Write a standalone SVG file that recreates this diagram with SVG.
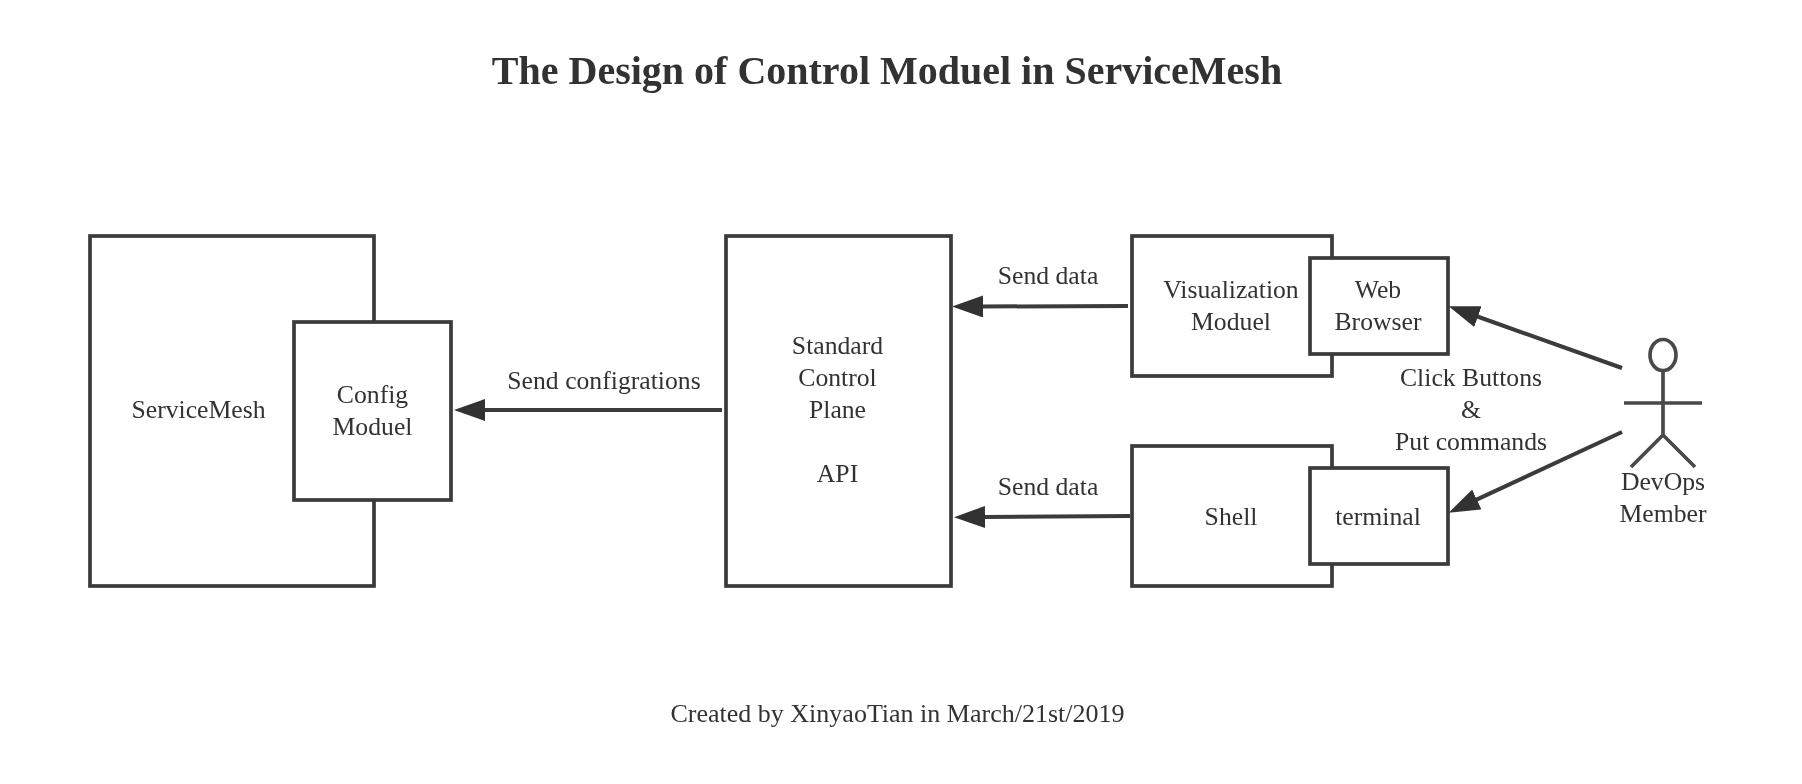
<svg xmlns="http://www.w3.org/2000/svg" width="1802" height="784" viewBox="0 0 1802 784">
<style>
text{font-family:"Liberation Serif","Times New Roman",serif;font-size:25.7px;fill:#333;text-anchor:middle}
.title{font-size:40px;font-weight:bold}
.foot{font-size:26px}
.box{fill:#fff;stroke:#3a3a3a;stroke-width:3.7}
.wire{fill:none;stroke:#3a3a3a;stroke-width:4;marker-end:url(#head)}
.fig{fill:none;stroke:#4a4a4a;stroke-width:3.7}
</style>
<defs>
<marker id="head" markerUnits="userSpaceOnUse" markerWidth="31" markerHeight="22" refX="2" refY="11" orient="auto"><path d="M0,0L31,11L0,22z" fill="#333"/></marker>
<filter id="soft" filterUnits="userSpaceOnUse" x="0" y="0" width="1802" height="784"><feGaussianBlur stdDeviation="0.5"/></filter>
</defs>
<rect width="1802" height="784" fill="#fff"/>
<g filter="url(#soft)">
<text class="title" x="887" y="84">The Design of Control Moduel in ServiceMesh</text>
<g id="service-mesh"><rect class="box" x="90" y="236" width="284" height="350"/><text x="198.5" y="418">ServiceMesh</text></g>
<g id="config-moduel"><rect class="box" x="294" y="322" width="157" height="178"/><text x="372.5" y="402.5">Config</text><text x="372.5" y="434.5">Moduel</text></g>
<g id="control-plane"><rect class="box" x="726" y="236" width="225" height="350"/><text x="837.5" y="354">Standard</text><text x="837.5" y="386">Control</text><text x="837.5" y="418">Plane</text><text x="837.5" y="482">API</text></g>
<g id="visualization"><rect class="box" x="1132" y="236" width="200" height="140"/><text x="1231" y="298">Visualization</text><text x="1231" y="330">Moduel</text></g>
<g id="web-browser"><rect class="box" x="1310" y="258" width="138" height="96"/><text x="1378" y="298">Web</text><text x="1378" y="330">Browser</text></g>
<g id="shell"><rect class="box" x="1132" y="446" width="200" height="140"/><text x="1231" y="525">Shell</text></g>
<g id="terminal"><rect class="box" x="1310" y="468" width="138" height="96"/><text x="1378" y="525">terminal</text></g>
<g id="devops"><ellipse class="fig" cx="1663" cy="355" rx="13" ry="15.5"/><path class="fig" d="M1663,371V435M1624,403H1702M1663,435L1631,467M1663,435L1695,467"/><text x="1663" y="490">DevOps</text><text x="1663" y="522">Member</text></g>
<g id="connectors">
<line class="wire" x1="722" y1="410" x2="483" y2="410"/>
<line class="wire" x1="1128" y1="306" x2="981" y2="306.5"/>
<line class="wire" x1="1130" y1="516" x2="983" y2="517"/>
<line class="wire" x1="1622" y1="368" x2="1476" y2="316"/>
<line class="wire" x1="1622" y1="432" x2="1475" y2="500.4"/>
</g>
<g id="labels">
<text x="604" y="388.5">Send configrations</text>
<text x="1048" y="284">Send data</text>
<text x="1048" y="494.5">Send data</text>
<text x="1471" y="386">Click Buttons</text><text x="1471" y="418">&amp;</text><text x="1471" y="450">Put commands</text>
<text class="foot" x="897.5" y="722">Created by XinyaoTian in March/21st/2019</text>
</g>
</g>
</svg>
